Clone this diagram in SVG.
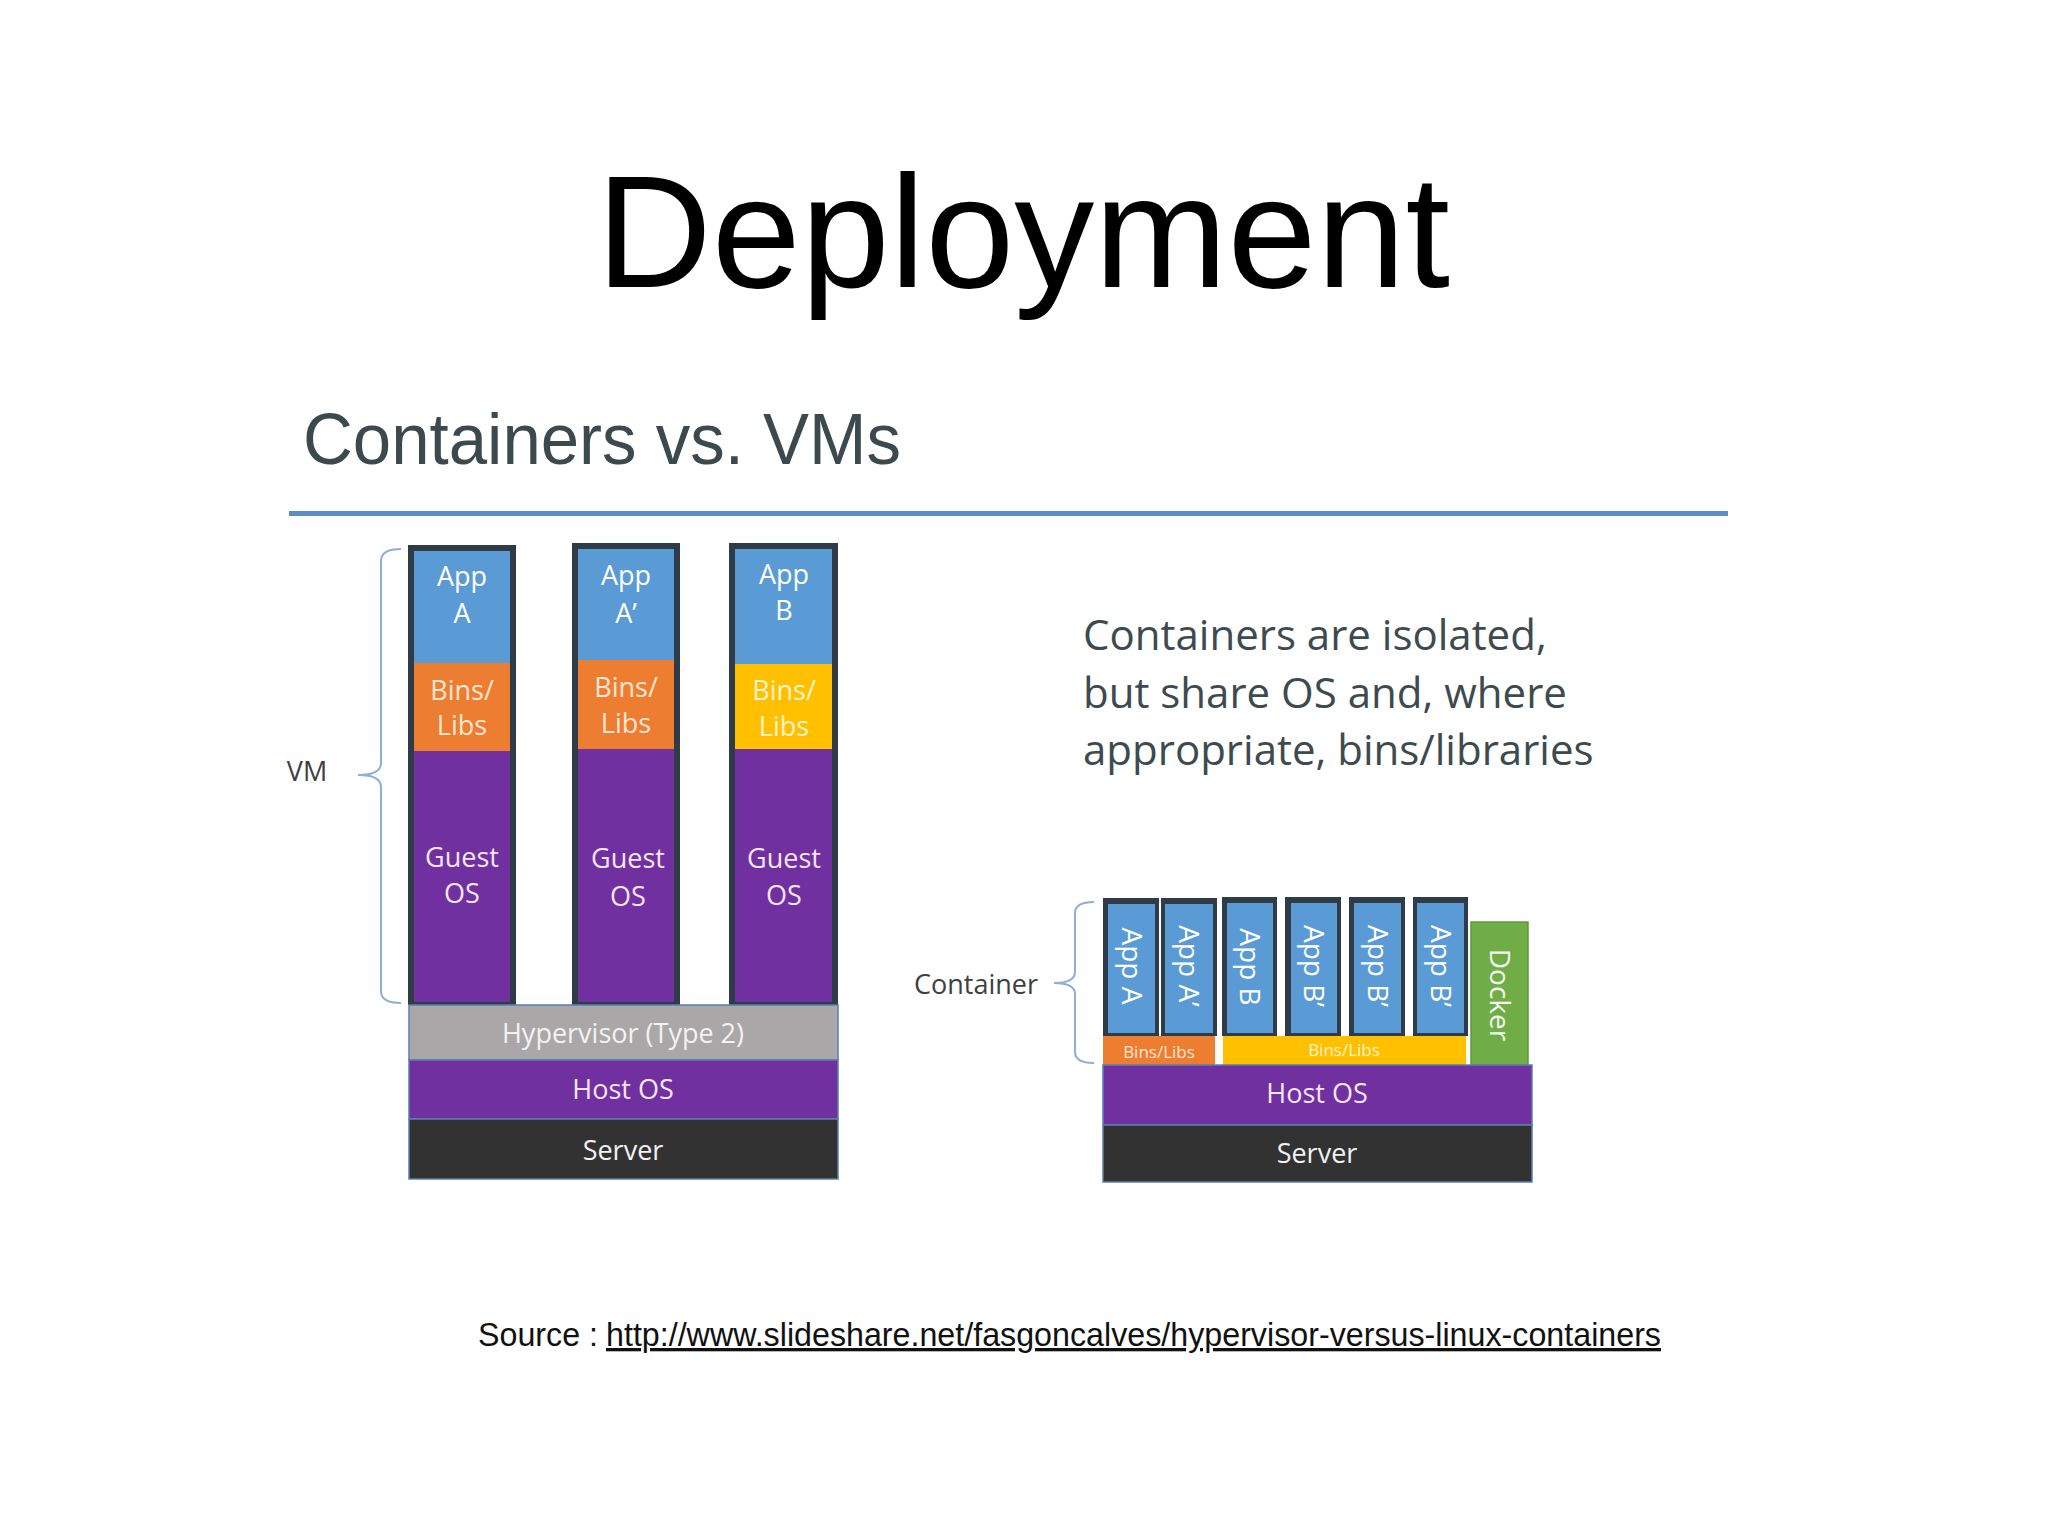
<svg xmlns="http://www.w3.org/2000/svg" width="2048" height="1536" viewBox="0 0 2048 1536">
<style>
.t{font-family:"Open Sans","Noto Sans","DejaVu Sans",sans-serif}
.h{font-family:"Liberation Sans",Arial,sans-serif}
.frame{fill:#2f3c47}
.app{fill:#5b9bd5}
.bo{fill:#ed7d31}
.by{fill:#ffc000}
.pu{fill:#7030a0}
.lbl{font-size:27px;text-anchor:middle}
.w{fill:#ffffff}
.lp{fill:#f4e6f8}
.lo{fill:#fde6d4}
.ly{fill:#fff3cf}
.bar{stroke:#5a7fae;stroke-width:1.5}
.brace{fill:none;stroke:#8fb0d6;stroke-width:2}
.vt{font-size:28px;text-anchor:middle;fill:#ffffff}
</style>
<rect width="2048" height="1536" fill="#ffffff"/>

<g id="title">
<text class="h" x="1023" y="287" font-size="160" text-anchor="middle" fill="#000">Deployment</text>
</g>
<g id="subtitle">
<text class="h" x="303" y="464" font-size="72" fill="#3c4a4e" textLength="598" lengthAdjust="spacingAndGlyphs">Containers vs. VMs</text>
<rect x="289" y="511" width="1439" height="5" fill="#5b8ec4"/>
</g>

<!-- VM stack -->
<g id="vm-app-a">
<rect class="frame" x="408" y="545" width="108" height="460"/>
<rect class="app" x="414" y="551" width="96" height="112"/>
<text class="t lbl w" x="462" y="586">App</text>
<text class="t lbl w" x="462" y="623">A</text>
<rect class="bo" x="414" y="663" width="96" height="88"/>
<text class="t lbl lo" x="462" y="700">Bins/</text>
<text class="t lbl lo" x="462" y="735">Libs</text>
<rect class="pu" x="414" y="751" width="96" height="251"/>
<text class="t lbl lp" x="462" y="867">Guest</text>
<text class="t lbl lp" x="462" y="903">OS</text>
</g>
<g id="vm-app-a2">
<rect class="frame" x="572" y="543" width="108" height="462"/>
<rect class="app" x="578" y="549" width="96" height="111"/>
<text class="t lbl w" x="626" y="585">App</text>
<text class="t lbl w" x="626" y="623">A’</text>
<rect class="bo" x="578" y="660" width="96" height="89"/>
<text class="t lbl lo" x="626" y="697">Bins/</text>
<text class="t lbl lo" x="626" y="733">Libs</text>
<rect class="pu" x="578" y="749" width="96" height="253"/>
<text class="t lbl lp" x="628" y="868">Guest</text>
<text class="t lbl lp" x="628" y="906">OS</text>
</g>
<g id="vm-app-b">
<rect class="frame" x="729" y="543" width="109" height="462"/>
<rect class="app" x="735" y="549" width="97" height="115"/>
<text class="t lbl w" x="784" y="584">App</text>
<text class="t lbl w" x="784" y="620">B</text>
<rect class="by" x="735" y="664" width="97" height="85"/>
<text class="t lbl ly" x="784" y="700">Bins/</text>
<text class="t lbl ly" x="784" y="736">Libs</text>
<rect class="pu" x="735" y="749" width="97" height="253"/>
<text class="t lbl lp" x="784" y="868">Guest</text>
<text class="t lbl lp" x="784" y="905">OS</text>
</g>
<g id="vm-hypervisor">
<rect class="bar" x="409" y="1005" width="429" height="55" fill="#a9a7a8"/>
<text class="t lbl" x="623" y="1043" fill="#f2f2f2">Hypervisor (Type 2)</text>
</g>
<g id="vm-host-os">
<rect class="bar pu" x="409" y="1060" width="429" height="59"/>
<text class="t lbl lp" x="623" y="1099">Host OS</text>
</g>
<g id="vm-server">
<rect class="bar" x="409" y="1119" width="429" height="60" fill="#323232"/>
<text class="t lbl" x="623" y="1160" fill="#f2f2f2">Server</text>
</g>
<g id="vm-label">
<text class="t" x="307" y="781" font-size="27" text-anchor="middle" fill="#404040">VM</text>
</g>

<!-- Container stack -->
<g id="ct-app-a">
<rect class="frame" x="1103" y="898" width="56" height="138"/>
<rect class="app" x="1108" y="904" width="47" height="129"/>
<text class="t vt" transform="translate(1121.5 966) rotate(90)">App A</text>
</g>
<g id="ct-app-a2">
<rect class="frame" x="1161" y="898" width="56" height="138"/>
<rect class="app" x="1165" y="904" width="48" height="129"/>
<text class="t vt" transform="translate(1179 966) rotate(90)">App A’</text>
</g>
<g id="ct-app-b">
<rect class="frame" x="1222" y="897" width="55" height="139"/>
<rect class="app" x="1227" y="903" width="46" height="130"/>
<text class="t vt" transform="translate(1240 967) rotate(90)">App B</text>
</g>
<g id="ct-app-b2">
<rect class="frame" x="1285" y="897" width="56" height="139"/>
<rect class="app" x="1291" y="903" width="46" height="130"/>
<text class="t vt" transform="translate(1304 966) rotate(90)">App B’</text>
</g>
<g id="ct-app-b3">
<rect class="frame" x="1349" y="897" width="56" height="139"/>
<rect class="app" x="1354" y="903" width="47" height="130"/>
<text class="t vt" transform="translate(1367.5 966) rotate(90)">App B’</text>
</g>
<g id="ct-app-b4">
<rect class="frame" x="1413" y="897" width="55" height="139"/>
<rect class="app" x="1417" y="903" width="47" height="130"/>
<text class="t vt" transform="translate(1430.5 966) rotate(90)">App B’</text>
</g>
<g id="ct-bins-a">
<rect class="bo" x="1103" y="1036" width="112" height="29"/>
<text class="t" x="1159" y="1058" font-size="17" text-anchor="middle" fill="#fde6d4">Bins/Libs</text>
</g>
<g id="ct-bins-b">
<rect class="by" x="1223" y="1036" width="243" height="30"/>
<text class="t" x="1344" y="1056" font-size="17" text-anchor="middle" fill="#fff3cf">Bins/Libs</text>
</g>
<g id="ct-docker">
<rect x="1471" y="922" width="57" height="143" fill="#70ad47" stroke="#5e9a3b" stroke-width="1.5"/>
<text class="t" transform="translate(1489.5 995) rotate(90)" font-size="28" text-anchor="middle" fill="#f4f9ef">Docker</text>
</g>
<g id="ct-host-os">
<rect class="bar pu" x="1103" y="1065" width="429" height="60"/>
<text class="t lbl lp" x="1317" y="1103">Host OS</text>
</g>
<g id="ct-server">
<rect class="bar" x="1103" y="1125" width="429" height="57" fill="#323232"/>
<text class="t lbl" x="1317" y="1163" fill="#f2f2f2">Server</text>
</g>
<g id="ct-label">
<text class="t" x="976" y="994" font-size="27" text-anchor="middle" fill="#404040">Container</text>
</g>

<g id="connectors">
<path class="brace" d="M401,549 Q381,549 381,561 L381,763 Q381,775 358,775 Q381,775 381,787 L381,991 Q381,1003 401,1003"/>
<path class="brace" d="M1094,902 Q1075,902 1075,913 L1075,972 Q1075,983 1054,983 Q1075,983 1075,994 L1075,1052 Q1075,1063 1094,1063"/>
</g>

<g id="note">
<text class="t" font-size="42" fill="#3d4a4f">
<tspan x="1083" y="650">Containers are isolated,</tspan>
<tspan x="1083" y="708">but share OS and, where</tspan>
<tspan x="1083" y="765">appropriate, bins/libraries</tspan>
</text>
</g>

<g id="source">
<text class="h" x="478" y="1346" font-size="33" fill="#111" textLength="120" lengthAdjust="spacingAndGlyphs">Source :</text>
<text class="h" x="606" y="1346" font-size="33" fill="#111" text-decoration="underline" textLength="1055" lengthAdjust="spacingAndGlyphs">http://www.slideshare.net/fasgoncalves/hypervisor-versus-linux-containers</text>
</g>
</svg>
